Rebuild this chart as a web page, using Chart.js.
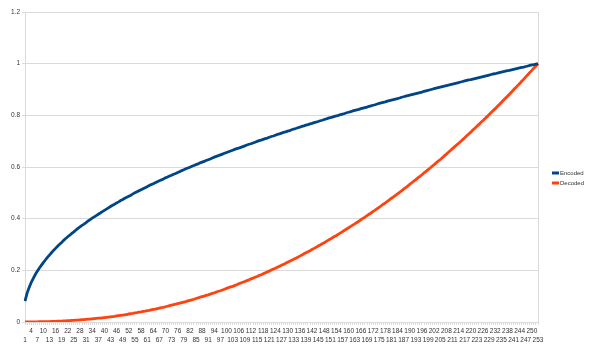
<!DOCTYPE html>
<html>
<head>
<meta charset="utf-8">
<script src="https://cdn.jsdelivr.net/npm/chart.js@4.4.1/dist/chart.umd.min.js"></script>
<style>
  html, body { margin: 0; padding: 0; background: #fff; }
  #wrap { width: 600px; height: 360px; }
</style>
</head>
<body>
<div id="wrap"><canvas id="chart" width="600" height="360"></canvas></div>
<script>
const CATEGORIES = [
  1, 2, 3, 4, 5, 6, 7, 8, 9, 10, 11, 12, 13, 14, 15, 16, 17, 18, 19, 20,
  21, 22, 23, 24, 25, 26, 27, 28, 29, 30, 31, 32, 33, 34, 35, 36, 37, 38, 39, 40,
  41, 42, 43, 44, 45, 46, 47, 48, 49, 50, 51, 52, 53, 54, 55, 56, 57, 58, 59, 60,
  61, 62, 63, 64, 65, 66, 67, 68, 69, 70, 71, 72, 73, 74, 75, 76, 77, 78, 79, 80,
  81, 82, 83, 84, 85, 86, 87, 88, 89, 90, 91, 92, 93, 94, 95, 96, 97, 98, 99, 100,
  101, 102, 103, 104, 105, 106, 107, 108, 109, 110, 111, 112, 113, 114, 115, 116, 117, 118, 119, 120,
  121, 122, 123, 124, 125, 126, 127, 128, 129, 130, 131, 132, 133, 134, 135, 136, 137, 138, 139, 140,
  141, 142, 143, 144, 145, 146, 147, 148, 149, 150, 151, 152, 153, 154, 155, 156, 157, 158, 159, 160,
  161, 162, 163, 164, 165, 166, 167, 168, 169, 170, 171, 172, 173, 174, 175, 176, 177, 178, 179, 180,
  181, 182, 183, 184, 185, 186, 187, 188, 189, 190, 191, 192, 193, 194, 195, 196, 197, 198, 199, 200,
  201, 202, 203, 204, 205, 206, 207, 208, 209, 210, 211, 212, 213, 214, 215, 216, 217, 218, 219, 220,
  221, 222, 223, 224, 225, 226, 227, 228, 229, 230, 231, 232, 233, 234, 235, 236, 237, 238, 239, 240,
  241, 242, 243, 244, 245, 246, 247, 248, 249, 250, 251, 252, 253,
];

const ENCODED = [
  0.081, 0.111, 0.133, 0.152, 0.168, 0.183, 0.196, 0.208, 0.219, 0.230,
  0.240, 0.250, 0.259, 0.268, 0.277, 0.285, 0.293, 0.301, 0.308, 0.316,
  0.323, 0.330, 0.336, 0.343, 0.349, 0.356, 0.362, 0.368, 0.374, 0.379,
  0.385, 0.391, 0.396, 0.402, 0.407, 0.412, 0.417, 0.422, 0.427, 0.432,
  0.437, 0.442, 0.447, 0.452, 0.456, 0.461, 0.465, 0.470, 0.474, 0.479,
  0.483, 0.487, 0.491, 0.496, 0.500, 0.504, 0.508, 0.512, 0.516, 0.520,
  0.524, 0.528, 0.532, 0.535, 0.539, 0.543, 0.547, 0.550, 0.554, 0.558,
  0.561, 0.565, 0.568, 0.572, 0.575, 0.579, 0.582, 0.586, 0.589, 0.593,
  0.596, 0.599, 0.603, 0.606, 0.609, 0.612, 0.616, 0.619, 0.622, 0.625,
  0.628, 0.631, 0.635, 0.638, 0.641, 0.644, 0.647, 0.650, 0.653, 0.656,
  0.659, 0.662, 0.665, 0.668, 0.671, 0.673, 0.676, 0.679, 0.682, 0.685,
  0.688, 0.690, 0.693, 0.696, 0.699, 0.702, 0.704, 0.707, 0.710, 0.712,
  0.715, 0.718, 0.720, 0.723, 0.726, 0.728, 0.731, 0.734, 0.736, 0.739,
  0.741, 0.744, 0.747, 0.749, 0.752, 0.754, 0.757, 0.759, 0.762, 0.764,
  0.767, 0.769, 0.772, 0.774, 0.776, 0.779, 0.781, 0.784, 0.786, 0.789,
  0.791, 0.793, 0.796, 0.798, 0.800, 0.803, 0.805, 0.807, 0.810, 0.812,
  0.814, 0.817, 0.819, 0.821, 0.823, 0.826, 0.828, 0.830, 0.832, 0.835,
  0.837, 0.839, 0.841, 0.844, 0.846, 0.848, 0.850, 0.852, 0.855, 0.857,
  0.859, 0.861, 0.863, 0.865, 0.867, 0.870, 0.872, 0.874, 0.876, 0.878,
  0.880, 0.882, 0.884, 0.886, 0.888, 0.890, 0.893, 0.895, 0.897, 0.899,
  0.901, 0.903, 0.905, 0.907, 0.909, 0.911, 0.913, 0.915, 0.917, 0.919,
  0.921, 0.923, 0.925, 0.927, 0.929, 0.931, 0.933, 0.935, 0.937, 0.938,
  0.940, 0.942, 0.944, 0.946, 0.948, 0.950, 0.952, 0.954, 0.956, 0.958,
  0.960, 0.961, 0.963, 0.965, 0.967, 0.969, 0.971, 0.973, 0.974, 0.976,
  0.978, 0.980, 0.982, 0.984, 0.986, 0.987, 0.989, 0.991, 0.993, 0.995,
  0.996, 0.998, 1,
];

const DECODED = [
  0.000, 0.000, 0.000, 0.000, 0.000, 0.000, 0.000, 0.001, 0.001, 0.001,
  0.001, 0.001, 0.001, 0.002, 0.002, 0.002, 0.003, 0.003, 0.003, 0.004,
  0.004, 0.005, 0.005, 0.006, 0.006, 0.007, 0.007, 0.008, 0.009, 0.009,
  0.010, 0.011, 0.011, 0.012, 0.013, 0.014, 0.015, 0.015, 0.016, 0.017,
  0.018, 0.019, 0.020, 0.021, 0.022, 0.024, 0.025, 0.026, 0.027, 0.028,
  0.029, 0.031, 0.032, 0.033, 0.035, 0.036, 0.038, 0.039, 0.041, 0.042,
  0.044, 0.045, 0.047, 0.049, 0.050, 0.052, 0.054, 0.056, 0.057, 0.059,
  0.061, 0.063, 0.065, 0.067, 0.069, 0.071, 0.073, 0.075, 0.077, 0.079,
  0.082, 0.084, 0.086, 0.088, 0.091, 0.093, 0.096, 0.098, 0.100, 0.103,
  0.105, 0.108, 0.111, 0.113, 0.116, 0.119, 0.121, 0.124, 0.127, 0.130,
  0.133, 0.136, 0.138, 0.141, 0.144, 0.148, 0.151, 0.154, 0.157, 0.160,
  0.163, 0.167, 0.170, 0.173, 0.176, 0.180, 0.183, 0.187, 0.190, 0.194,
  0.197, 0.201, 0.205, 0.208, 0.212, 0.216, 0.220, 0.223, 0.227, 0.231,
  0.235, 0.239, 0.243, 0.247, 0.251, 0.255, 0.259, 0.264, 0.268, 0.272,
  0.276, 0.281, 0.285, 0.289, 0.294, 0.298, 0.303, 0.307, 0.312, 0.317,
  0.321, 0.326, 0.331, 0.335, 0.340, 0.345, 0.350, 0.355, 0.360, 0.365,
  0.370, 0.375, 0.380, 0.385, 0.390, 0.396, 0.401, 0.406, 0.412, 0.417,
  0.422, 0.428, 0.433, 0.439, 0.444, 0.450, 0.456, 0.461, 0.467, 0.473,
  0.479, 0.484, 0.490, 0.496, 0.502, 0.508, 0.514, 0.520, 0.526, 0.533,
  0.539, 0.545, 0.551, 0.558, 0.564, 0.570, 0.577, 0.583, 0.590, 0.596,
  0.603, 0.609, 0.616, 0.623, 0.629, 0.636, 0.643, 0.650, 0.657, 0.664,
  0.671, 0.678, 0.685, 0.692, 0.699, 0.706, 0.713, 0.721, 0.728, 0.735,
  0.743, 0.750, 0.758, 0.765, 0.773, 0.780, 0.788, 0.795, 0.803, 0.811,
  0.819, 0.826, 0.834, 0.842, 0.850, 0.858, 0.866, 0.874, 0.882, 0.890,
  0.899, 0.907, 0.915, 0.923, 0.932, 0.940, 0.949, 0.957, 0.966, 0.974,
  0.983, 0.991, 1,
];

const SERIES_LABELS = ["Encoded", "Decoded"];
const SERIES_COLORS = ["#004586", "#ff420e"];
const Y_MIN = 0;
const Y_MAX = 1.2;
const Y_STEP = 0.2;

const FONT = "'Liberation Sans', Arial, sans-serif";
const GRID = "#dadada";
const TEXT = "#333333";

Chart.defaults.font.family = FONT;
Chart.defaults.color = TEXT;

// frame round the plot area (top and right edges included)
const framePlugin = {
  id: "frame",
  beforeDatasetsDraw(chart) {
    const { ctx, chartArea: a } = chart;
    ctx.save();
    ctx.strokeStyle = GRID;
    ctx.lineWidth = 1;
    ctx.strokeRect(Math.round(a.left) + 0.5, Math.round(a.top) + 0.5,
      Math.round(a.right - a.left), Math.round(a.bottom - a.top));
    ctx.restore();
  },
};

// legend on the right, short thick line + label, like the office chart
const sideLegend = {
  id: "sideLegend",
  afterDraw(chart) {
    const { ctx, chartArea } = chart;
    const x = chartArea.right + 14;
    let y = chart.height / 2 - 7;
    ctx.save();
    ctx.font = "6px " + FONT;
    ctx.textBaseline = "middle";
    chart.data.datasets.forEach((ds) => {
      ctx.fillStyle = ds.borderColor;
      ctx.fillRect(x, y - 1.5, 7, 3);
      ctx.fillStyle = TEXT;
      ctx.fillText(ds.label, x + 8, y + 0.5);
      y += 10;
    });
    ctx.restore();
  },
};

new Chart(document.getElementById("chart"), {
  type: "line",
  data: {
    labels: CATEGORIES,
    datasets: [
      {
        label: SERIES_LABELS[0],
        data: ENCODED,
        borderColor: SERIES_COLORS[0],
        backgroundColor: SERIES_COLORS[0],
        borderWidth: 2.8,
        pointRadius: 0,
        tension: 0,
        fill: false,
      },
      {
        label: SERIES_LABELS[1],
        data: DECODED,
        borderColor: SERIES_COLORS[1],
        backgroundColor: SERIES_COLORS[1],
        borderWidth: 2.8,
        pointRadius: 0,
        tension: 0,
        fill: false,
      },
    ],
  },
  options: {
    responsive: false,
    animation: false,
    layout: { padding: { top: 12, right: 62, left: 0, bottom: 0 } },
    plugins: {
      legend: { display: false },
      tooltip: { enabled: false },
    },
    scales: {
      x: {
        offset: false,
        grid: {
          display: true,
          drawOnChartArea: false,
          drawTicks: true,
          tickLength: 3,
          color: GRID,
        },
        border: { color: GRID },
        ticks: {
          autoSkip: false,
          maxRotation: 0,
          minRotation: 0,
          padding: 2,
          color: TEXT,
          font: { size: 6.5, lineHeight: "9px" },
          callback: function (value, index) {
            const lab = String(this.getLabelForValue(value));
            if (index % 6 === 3) return [lab, ""];
            if (index % 6 === 0) return ["", lab];
            return "";
          },
        },
        afterFit: (s) => { s.height = 38; },
      },
      y: {
        min: Y_MIN,
        max: Y_MAX,
        grid: { color: GRID, tickLength: 3 },
        border: { color: GRID },
        ticks: {
          stepSize: Y_STEP,
          padding: 2,
          color: TEXT,
          font: { size: 6.5 },
          callback: (v) => String(Number(v.toFixed(1))),
        },
        afterFit: (s) => { s.width = 25; },
      },
    },
  },
  plugins: [framePlugin, sideLegend],
});
</script>
</body>
</html>
